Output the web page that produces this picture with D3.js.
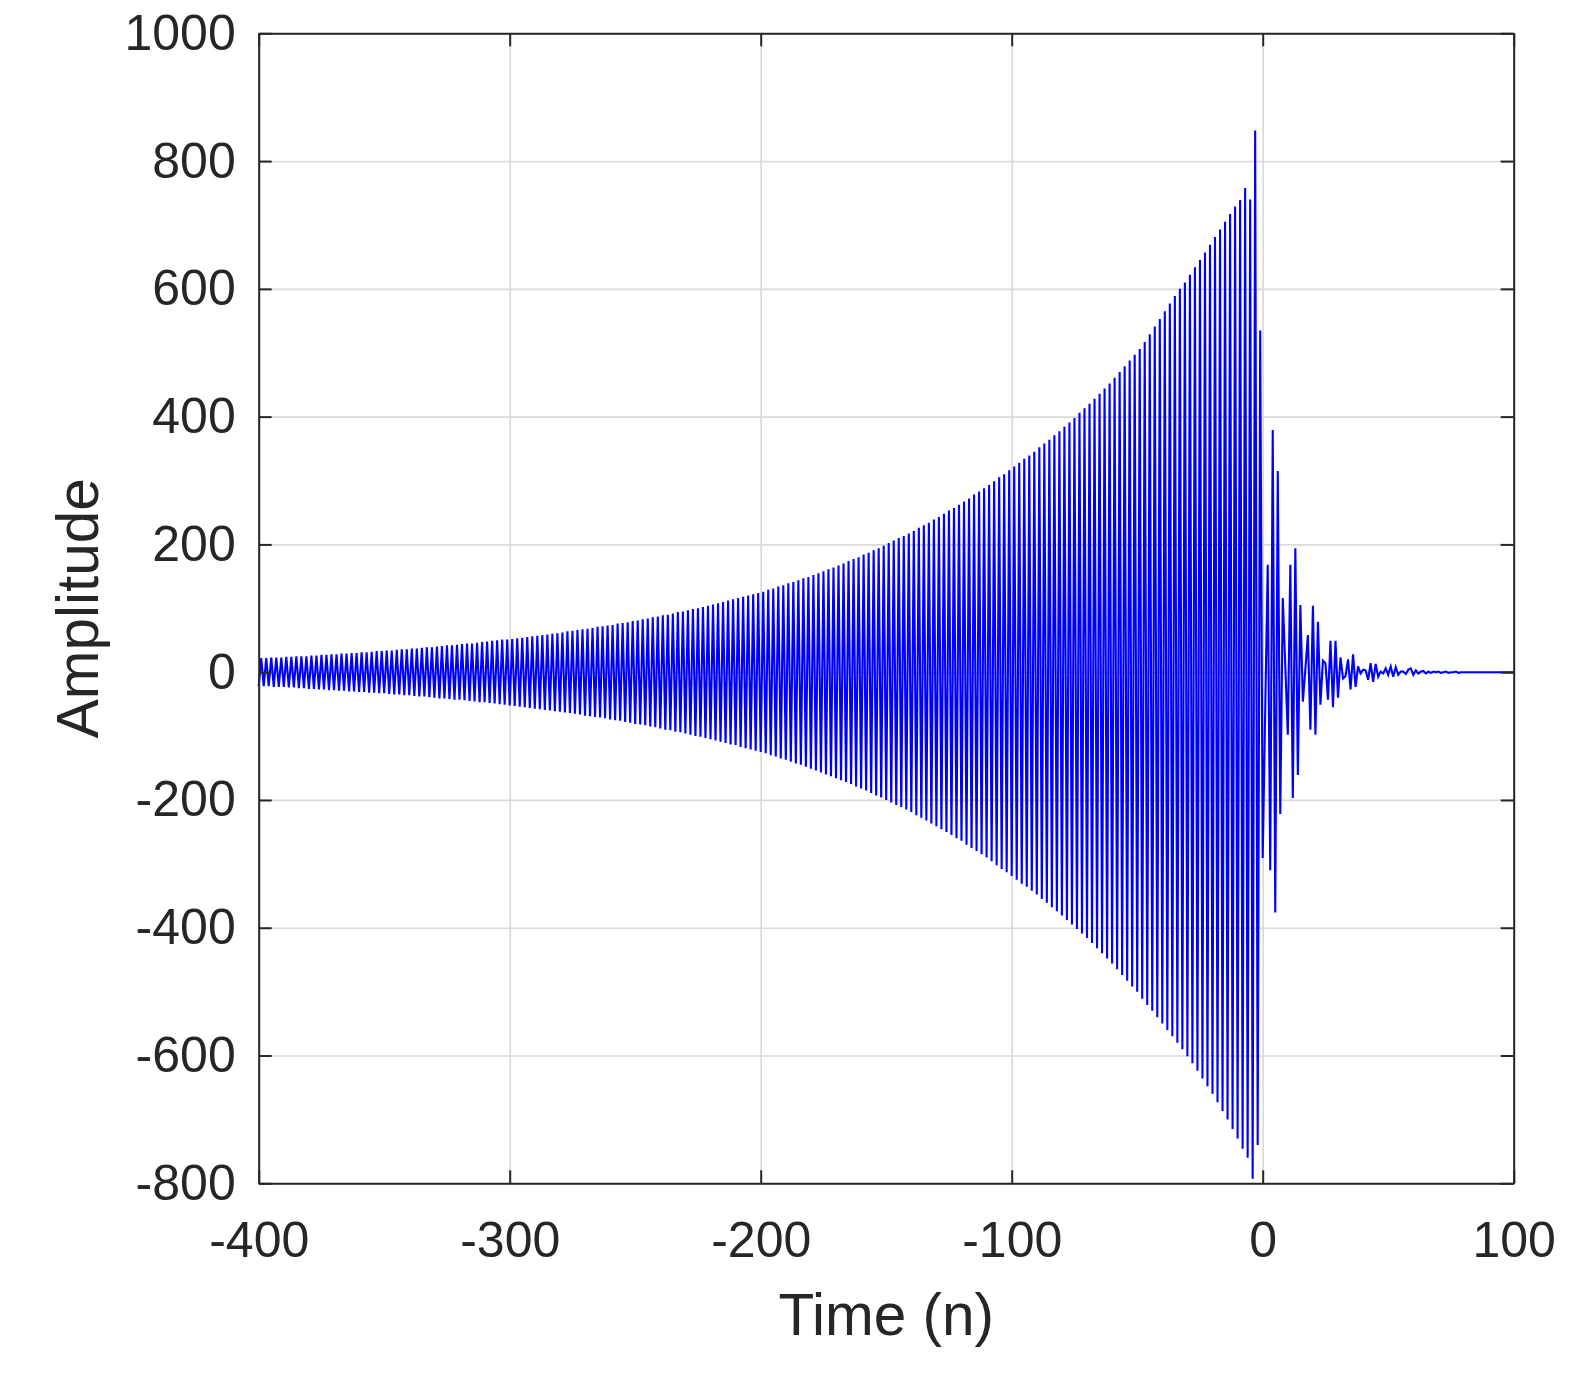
<!DOCTYPE html>
<html>
<head>
<meta charset="utf-8">
<script src="https://cdn.jsdelivr.net/npm/d3@7"></script>
<style>
  html, body { margin: 0; padding: 0; background: #ffffff; }
  svg { display: block; }
</style>
</head>
<body>
<svg id="chart" width="1584" height="1376"></svg>
<script>
// ---- data ----
const timeStart = -400;           // first sample index n
const xTickValues = [-400, -300, -200, -100, 0, 100];
const yTickValues = [-800, -600, -400, -200, 0, 200, 400, 600, 800, 1000];
const xLabel = "Time (n)";
const yLabel = "Amplitude";

// amplitude of each sample, n = -400 ... 100
const amplitude = [
  -22,22,-22,22,-22,23,-23,23,-23,23,
  -23,24,-24,24,-24,25,-25,25,-25,25,
  -26,26,-26,26,-27,27,-27,27,-28,28,
  -28,28,-29,29,-29,29,-30,30,-30,30,
  -31,31,-31,31,-32,32,-32,33,-33,33,
  -33,34,-34,34,-35,35,-35,36,-36,36,
  -36,37,-37,37,-38,38,-38,39,-39,39,
  -40,40,-41,41,-41,42,-42,42,-43,43,
  -43,44,-44,45,-45,45,-46,46,-47,47,
  -47,48,-48,49,-49,50,-50,51,-51,51,
  -52,52,-53,53,-54,54,-55,55,-56,56,
  -57,57,-58,58,-59,59,-60,60,-61,61,
  -62,62,-63,64,-64,65,-65,66,-66,67,
  -68,68,-69,69,-70,71,-71,72,-72,73,
  -74,74,-75,76,-76,77,-78,78,-79,80,
  -81,81,-82,83,-83,84,-85,86,-86,87,
  -88,89,-90,90,-91,92,-93,94,-94,95,
  -96,97,-98,99,-100,100,-101,102,-103,104,
  -105,106,-107,108,-109,110,-111,112,-113,114,
  -114,116,-117,118,-119,120,-121,122,-123,124,
  -125,126,-127,129,-130,131,-132,134,-135,136,
  -137,139,-140,141,-143,144,-145,147,-148,149,
  -151,152,-154,155,-157,158,-160,161,-163,164,
  -166,167,-169,170,-172,174,-175,177,-179,180,
  -182,184,-185,187,-189,191,-193,194,-196,198,
  -200,202,-204,206,-208,210,-211,213,-215,217,
  -219,221,-224,226,-228,230,-232,234,-237,239,
  -241,243,-246,248,-250,253,-255,257,-260,262,
  -264,267,-270,272,-275,278,-280,283,-285,288,
  -290,293,-296,299,-302,305,-308,310,-313,316,
  -319,322,-325,328,-331,334,-336,339,-342,345,
  -348,352,-355,358,-361,364,-368,371,-374,377,
  -381,384,-388,391,-395,398,-402,406,-409,413,
  -416,420,-424,428,-432,436,-440,444,-448,452,
  -456,461,-465,470,-474,479,-483,488,-492,497,
  -500,506,-511,517,-521,529,-530,541,-540,553,
  -550,565,-560,577,-570,589,-580,
  600,-590,610,-601,622,-612,634,-624,645,-636,
  657,-648,669,-660,681,-673,693,-687,705,-700,
  717,-715,729,-730,739,-746,758,-760,740,-793,
  848,-740,535,
  -291,-60,168,-310,379,-376,315,-222,116,10,
  -98,168,-197,194,-161,105,-46,5,58,-90,
  104,-98,79,-51,18,14,-43,49,-55,49,
  -40,23,-10,-6,20,-27,28,-23,9,-2,
  4,3,-12,14,-15,13,-7,1,-2,6,
  -4,9,-7,8,-4,1,1,-3,4,6,
  -4,3,-2,1,2,-2,1,-1,1,0,
  1,-1,0,1,-1,0,0,1,-1,0,
  0,0,0,0,0,0,0,0,0,0,
  0,0,0,0,0,0,0,0,0,0,
  0
];

// ---- layout ----
const W = 1584, H = 1376;
const plotLeft = 258.7, plotRight = 1513.7, plotTop = 33.3, plotBottom = 1183.3;
const ink = "#262626";
const font = "'Liberation Sans', Arial, Helvetica, sans-serif";

const svg = d3.select("#chart");
svg.append("rect").attr("width", W).attr("height", H).attr("fill", "#ffffff");

const x = d3.scaleLinear().domain([-400, 100]).range([plotLeft, plotRight]);
const y = d3.scaleLinear().domain([-800, 1000]).range([plotBottom, plotTop]);

const fmt = d => String(d);

// grid
const gx = svg.append("g").attr("transform", `translate(0,${plotBottom})`)
  .call(d3.axisBottom(x).tickValues(xTickValues).tickSize(-(plotBottom - plotTop)).tickFormat(""));
const gy = svg.append("g").attr("transform", `translate(${plotLeft},0)`)
  .call(d3.axisLeft(y).tickValues(yTickValues).tickSize(-(plotRight - plotLeft)).tickFormat(""));
[gx, gy].forEach(g => {
  g.select(".domain").remove();
  g.selectAll(".tick line").attr("stroke", "#dadada").attr("stroke-width", 1.7);
});

// data line
const pts = amplitude.map((v, i) => [timeStart + i, v]);
const line = d3.line().x(d => x(d[0])).y(d => y(d[1]));
svg.append("path")
  .datum(pts)
  .attr("d", line)
  .attr("fill", "none")
  .attr("stroke", "#0000ff")
  .attr("stroke-width", 2.1)
  .attr("stroke-linejoin", "miter")
  .attr("stroke-miterlimit", 4);

// axes (box with inward ticks)
const tick = 13;
const axB = svg.append("g").attr("transform", `translate(0,${plotBottom})`)
  .call(d3.axisBottom(x).tickValues(xTickValues).tickSizeInner(-tick).tickSizeOuter(0).tickPadding(38).tickFormat(fmt));
const axT = svg.append("g").attr("transform", `translate(0,${plotTop})`)
  .call(d3.axisTop(x).tickValues(xTickValues).tickSizeInner(-tick).tickSizeOuter(0).tickFormat(""));
const axL = svg.append("g").attr("transform", `translate(${plotLeft},0)`)
  .call(d3.axisLeft(y).tickValues(yTickValues).tickSizeInner(-tick).tickSizeOuter(0).tickPadding(23).tickFormat(fmt));
const axR = svg.append("g").attr("transform", `translate(${plotRight},0)`)
  .call(d3.axisRight(y).tickValues(yTickValues).tickSizeInner(-tick).tickSizeOuter(0).tickFormat(""));

[axB, axT, axL, axR].forEach(g => {
  g.select(".domain").attr("stroke", ink).attr("stroke-width", 2);
  g.selectAll(".tick line").attr("stroke", ink).attr("stroke-width", 2);
  g.selectAll(".tick text")
    .attr("fill", ink)
    .style("font-family", font)
    .style("font-size", "50px");
});

// axis titles
svg.append("text")
  .attr("x", (plotLeft + plotRight) / 2)
  .attr("y", 1335)
  .attr("text-anchor", "middle")
  .attr("fill", ink)
  .style("font-family", font)
  .style("font-size", "58.5px")
  .text(xLabel);

svg.append("text")
  .attr("transform", `translate(98,${(plotTop + plotBottom) / 2}) rotate(-90)`)
  .attr("text-anchor", "middle")
  .attr("fill", ink)
  .style("font-family", font)
  .style("font-size", "58.5px")
  .text(yLabel);
</script>
</body>
</html>
